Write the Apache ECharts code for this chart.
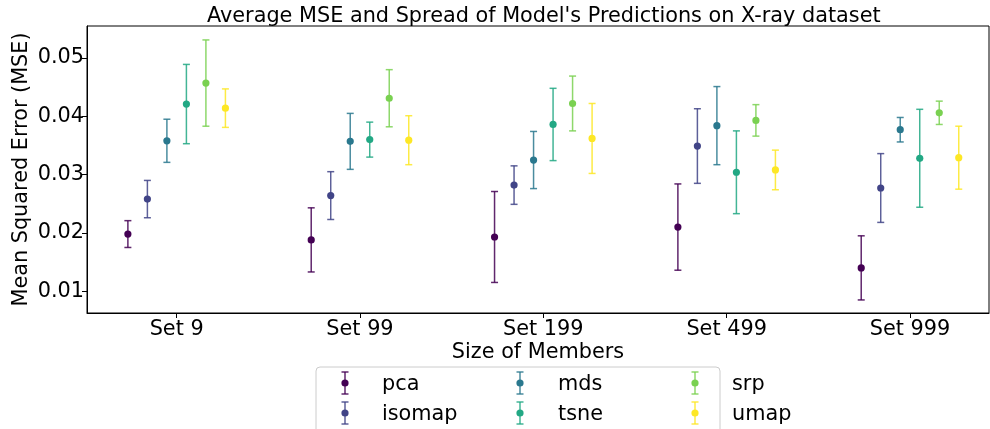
<!DOCTYPE html>
<html>
<head>
<meta charset="utf-8">
<script src="https://cdn.jsdelivr.net/npm/echarts@6/dist/echarts.min.js"></script>
<style>html,body{margin:0;padding:0;background:#fff;}#c{width:990px;height:429px;}</style>
</head>
<body>
<div id="c"></div>
<script>
const categories = ['Set 9', 'Set 99', 'Set 199', 'Set 499', 'Set 999'];
const methods = ['pca', 'isomap', 'mds', 'tsne', 'srp', 'umap'];
const colors = ['#440154', '#414487', '#2a788e', '#22a884', '#7ad151', '#fde725'];
const yTicks = [0.01, 0.02, 0.03, 0.04, 0.05];

const meanPca    = [0.0198, 0.0188, 0.0193, 0.0210, 0.0140];
const errPca     = [0.0023, 0.0055, 0.0078, 0.0074, 0.0055];
const meanIsomap = [0.0258, 0.0264, 0.0282, 0.0349, 0.0277];
const errIsomap  = [0.0032, 0.0041, 0.0033, 0.0064, 0.0059];
const meanMds    = [0.0358, 0.0357, 0.0325, 0.0384, 0.0377];
const errMds     = [0.0037, 0.0048, 0.0049, 0.0067, 0.0021];
const meanTsne   = [0.0421, 0.0360, 0.0386, 0.0304, 0.0328];
const errTsne    = [0.0068, 0.0030, 0.0062, 0.0071, 0.0084];
const meanSrp    = [0.0457, 0.0431, 0.0422, 0.0393, 0.0406];
const errSrp     = [0.0074, 0.0049, 0.0047, 0.0027, 0.0020];
const meanUmap   = [0.0414, 0.0359, 0.0362, 0.0308, 0.0329];
const errUmap    = [0.0033, 0.0042, 0.0060, 0.0034, 0.0054];

const means = [meanPca, meanIsomap, meanMds, meanTsne, meanSrp, meanUmap];
const errs = [errPca, errIsomap, errMds, errTsne, errSrp, errUmap];

const FS = 20.8;
const FONT = 'DejaVu Sans';
const step = 0.1064;
const capHalf = 3.5;

function errorGlyph(cx, top, bottom, cy, col) {
  const ls = { stroke: col, lineWidth: 1.5, opacity: 0.85 };
  return [
    { type: 'line', shape: { x1: cx, y1: top, x2: cx, y2: bottom }, style: ls },
    { type: 'line', shape: { x1: cx - capHalf, y1: top, x2: cx + capHalf, y2: top }, style: ls },
    { type: 'line', shape: { x1: cx - capHalf, y1: bottom, x2: cx + capHalf, y2: bottom }, style: ls },
    { type: 'circle', shape: { cx: cx, cy: cy, r: 3.6 }, style: { fill: col } }
  ];
}

function renderItem(params, api) {
  const si = params.seriesIndex;
  const x = api.value(0) + (si - 2.5) * step;
  const m = api.value(1), e = api.value(2);
  const p = api.coord([x, m]);
  const hi = api.coord([x, m + e]);
  const lo = api.coord([x, m - e]);
  return { type: 'group', children: errorGlyph(p[0], hi[1], lo[1], p[1], colors[si]) };
}

const series = methods.map((name, si) => ({
  name: name,
  type: 'custom',
  renderItem: renderItem,
  itemStyle: { color: colors[si] },
  encode: { x: 0, y: [1] },
  data: categories.map((c, ci) => [ci, means[si][ci], errs[si][ci]]),
  z: 2 + si
}));

// legend drawn as graphic: 3 columns x 2 rows (column-major)
const legendIconX = [345, 520, 695];
const legendTextX = [382, 558, 732];
const legendRowY = [383, 413];
const legendGraphics = [{
  type: 'rect',
  shape: { x: 316, y: 367, width: 404, height: 80, r: 4 },
  style: { fill: '#fff', stroke: '#cccccc', lineWidth: 1 },
  z: 10
}];
methods.forEach((name, i) => {
  const col = Math.floor(i / 2), row = i % 2;
  const cx = legendIconX[col], cy = legendRowY[row];
  errorGlyph(cx, cy - 11, cy + 11, cy, colors[i]).forEach(g => { g.z = 11; legendGraphics.push(g); });
  legendGraphics.push({
    type: 'text', x: legendTextX[col], y: cy + 1.5, z: 11,
    style: { text: name, fontFamily: FONT, fontSize: FS, fill: '#000', textVerticalAlign: 'middle', verticalAlign: 'middle' }
  });
});

const chart = echarts.init(document.getElementById('c'), null, { renderer: 'canvas' });
chart.setOption({
  animation: false,
  backgroundColor: '#fff',
  title: {
    text: "Average MSE and Spread of Model's Predictions on X-ray dataset",
    left: 202, top: 1,
    textStyle: { fontFamily: FONT, fontSize: FS, fontWeight: 'normal', color: '#000' }
  },
  grid: { left: 87, right: 1, top: 26, bottom: 116, containLabel: false, outerBoundsMode: 'none', show: true, borderColor: '#000', borderWidth: 1, backgroundColor: 'transparent' },
  xAxis: {
    type: 'value',
    min: -0.489, max: 4.431,
    name: 'Size of Members',
    nameLocation: 'middle',
    nameGap: 29,
    nameMoveOverlap: false,
    nameTextStyle: { fontFamily: FONT, fontSize: FS, color: '#000' },
    axisLine: { show: true, onZero: false, lineStyle: { color: '#000', width: 1 } },
    axisTick: { show: true, length: 5, lineStyle: { color: '#000' }, customValues: [0, 1, 2, 3, 4] },
    axisLabel: { fontFamily: FONT, fontSize: FS, color: '#000', margin: 6, customValues: [0, 1, 2, 3, 4], formatter: v => categories[Math.round(v)] },
    splitLine: { show: false }
  },
  yAxis: {
    type: 'value',
    min: 0.00626, max: 0.05549,
    name: 'Mean Squared Error (MSE)',
    nameLocation: 'middle',
    nameGap: 55,
    nameMoveOverlap: false,
    nameTextStyle: { fontFamily: FONT, fontSize: FS, color: '#000' },
    axisLine: { show: true, onZero: false, lineStyle: { color: '#000', width: 1 } },
    axisTick: { show: true, length: 5, lineStyle: { color: '#000' }, customValues: yTicks },
    axisLabel: { fontFamily: FONT, fontSize: FS, color: '#000', margin: 3, customValues: yTicks, formatter: v => v.toFixed(2) },
    splitLine: { show: false }
  },
  graphic: legendGraphics,
  series: series
});
</script>
</body>
</html>
